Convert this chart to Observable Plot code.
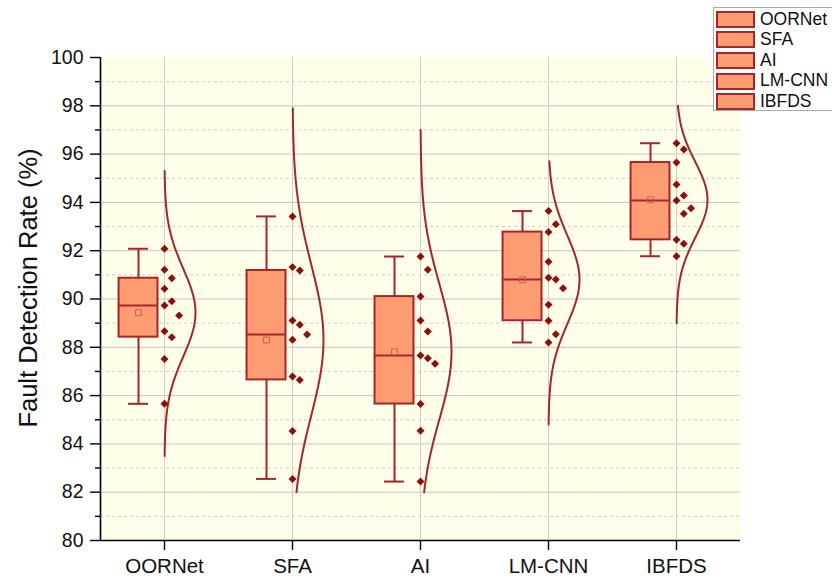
<!DOCTYPE html>
<html>
<head>
<meta charset="utf-8">
<script src="https://cdn.jsdelivr.net/npm/d3@7"></script>
<script src="https://cdn.jsdelivr.net/npm/@observablehq/plot@0.6"></script>
<style>
  body { margin: 0; background: #fff; font-family: Arial, "Liberation Sans", sans-serif; }
  #wrap { position: relative; width: 832px; height: 579px; overflow: hidden; }
  #legend { position: absolute; left: 713px; top: 7px; width: 122px; height: 104px;
            border: 1px solid #a9a9a9; background: #fff; box-sizing: border-box; padding-top: 1px; }
  .row { display: flex; align-items: center; height: 20.6px; }
  .sw { width: 35px; height: 13px; margin-left: 2px; margin-right: 5px; background: #FD9C72; border: 2px solid #A4262C; }
  .lab { font-size: 17.5px; color: #111; line-height: 1; }
</style>
</head>
<body>
<div id="wrap"><div id="legend"></div></div>
<script>
// ---- data ----
const categories = ["OORNet", "SFA", "AI", "LM-CNN", "IBFDS"];
const oornetRates = [92.08, 91.21, 90.86, 90.42, 89.91, 89.73, 89.32, 88.66, 88.42, 87.52, 85.66];
const sfaRates    = [93.42, 91.32, 91.18, 89.11, 88.93, 88.53, 88.31, 86.79, 86.65, 84.53, 82.55];
const aiRates     = [91.76, 91.21, 90.10, 89.11, 88.65, 87.66, 87.55, 87.32, 85.65, 84.54, 82.44];
const lmcnnRates  = [93.64, 93.10, 92.77, 91.54, 90.88, 90.81, 90.45, 89.76, 89.10, 88.54, 88.20];
const ibfdsRates  = [96.45, 96.19, 95.65, 94.74, 94.29, 94.08, 93.76, 93.53, 92.45, 92.29, 91.77];
// extent of the fitted normal curve drawn beside each group
const curveLow  = [83.5, 82.0, 82.0, 84.8, 89.0];
const curveHigh = [95.3, 97.9, 97.0, 95.7, 98.0];
const yMajorTicks = [80, 82, 84, 86, 88, 90, 92, 94, 96, 98, 100];
const yMinorTicks = [81, 83, 85, 87, 89, 91, 93, 95, 97, 99];
const yLabel = "Fault Detection Rate (%)";

// ---- styling ----
const boxFill = "#FD9C72", boxStroke = "#A4262C", pointFill = "#8C0E0E", curveStroke = "#A3262A";
const xDomain = [-0.5, categories.length - 0.5];
const boxOff = -0.203, boxHalf = 0.152, capHalf = 0.078, curveWidth = 0.242, jitterStep = 0.057;

// ---- derived ----
const series = [oornetRates, sfaRates, aiRates, lmcnnRates, ibfdsRates];
function quant(s, p) { // (n+1)p quantile, as used by the source software
  const pos = (s.length + 1) * p, lo = Math.floor(pos), f = pos - lo;
  if (lo < 1) return s[0];
  if (lo >= s.length) return s[s.length - 1];
  return s[lo - 1] + f * (s[lo] - s[lo - 1]);
}
const stats = series.map((vals, i) => {
  const s = [...vals].sort((a, b) => a - b);
  return { i, min: s[0], max: s[s.length - 1], q1: quant(s, 0.25), med: quant(s, 0.5),
           q3: quant(s, 0.75), mean: d3.mean(s), sd: d3.deviation(s) };
});
const points = [];
series.forEach((vals, i) => {
  const placed = [];
  [...vals].sort((a, b) => b - a).forEach(v => {
    let k = 0;
    while (placed.some(p => p.k === k && Math.abs(p.v - v) < 0.6)) k++;
    placed.push({ k, v });
    points.push({ i, v, k });
  });
});
const curve = [];
stats.forEach(st => {
  const lo = curveLow[st.i], hi = curveHigh[st.i], n = 140;
  for (let j = 0; j <= n; j++) {
    const v = lo + (hi - lo) * j / n;
    curve.push({ i: st.i, v, w: Math.exp(-0.5 * ((v - st.mean) / st.sd) ** 2) });
  }
});

const chart = Plot.plot({
  width: 832, height: 579,
  marginLeft: 100, marginRight: 92, marginTop: 57, marginBottom: 39,
  style: { fontFamily: "Arial, 'Liberation Sans', sans-serif", background: "transparent", color: "#111" },
  x: { domain: xDomain },
  y: { domain: [80, 100] },
  marks: [
    Plot.frame({ fill: "#FFFEE8", stroke: "none" }),
    Plot.gridY(yMinorTicks, { stroke: "#cfcfcf", strokeOpacity: 1, strokeDasharray: "3,3" }),
    Plot.gridY(yMajorTicks.filter(t => t > 80 && t < 100), { stroke: "#c4c4c0", strokeOpacity: 1 }),
    Plot.gridX(d3.range(categories.length), { stroke: "#d0d0c8", strokeOpacity: 1 }),
    Plot.ruleY([80], { stroke: "#000", strokeWidth: 1.6 }),
    Plot.ruleX([xDomain[0]], { y1: 80, y2: 100, stroke: "#000", strokeWidth: 1.6 }),
    Plot.axisY({ ticks: yMajorTicks, tickSize: 10, tickPadding: 7, fontSize: 19.5, stroke: "#000", strokeWidth: 1.4, label: null }),
    Plot.axisY({ ticks: yMinorTicks, tickSize: 5, text: null, stroke: "#000", strokeWidth: 1.4, label: null }),
    Plot.axisX({ ticks: d3.range(categories.length), tickFormat: i => categories[i], tickSize: 10, tickPadding: 8,
                 fontSize: 20.5, stroke: "#000", strokeWidth: 1.4, label: null }),
    Plot.text([yLabel], { frameAnchor: "left", textAnchor: "middle", rotate: -90, dx: -72, dy: -11, fontSize: 25.5, fill: "#111" }),
    // normal curves
    Plot.line(curve, { x: d => d.i + curveWidth * d.w, y: "v", z: "i", stroke: curveStroke, strokeWidth: 2 }),
    // whiskers
    Plot.ruleX(stats, { x: d => d.i + boxOff, y1: "q3", y2: "max", stroke: boxStroke, strokeWidth: 2 }),
    Plot.ruleX(stats, { x: d => d.i + boxOff, y1: "min", y2: "q1", stroke: boxStroke, strokeWidth: 2 }),
    Plot.ruleY(stats, { y: "max", x1: d => d.i + boxOff - capHalf, x2: d => d.i + boxOff + capHalf, stroke: boxStroke, strokeWidth: 2 }),
    Plot.ruleY(stats, { y: "min", x1: d => d.i + boxOff - capHalf, x2: d => d.i + boxOff + capHalf, stroke: boxStroke, strokeWidth: 2 }),
    // boxes
    Plot.rect(stats, { x1: d => d.i + boxOff - boxHalf, x2: d => d.i + boxOff + boxHalf, y1: "q1", y2: "q3",
                       fill: boxFill, stroke: boxStroke, strokeWidth: 2 }),
    Plot.ruleY(stats, { y: "med", x1: d => d.i + boxOff - boxHalf, x2: d => d.i + boxOff + boxHalf, stroke: boxStroke, strokeWidth: 2 }),
    Plot.dot(stats, { x: d => d.i + boxOff, y: "mean", symbol: "square", r: 3.3, fill: "none", stroke: "#C8664C", strokeWidth: 1 }),
    // data points
    Plot.dot(points, { x: d => d.i + d.k * jitterStep, y: "v", symbol: "diamond2", r: 3.6, fill: pointFill, stroke: "none" })
  ]
});
document.getElementById("wrap").prepend(chart);

const legend = d3.select("#legend");
categories.forEach(c => {
  const row = legend.append("div").attr("class", "row");
  row.append("span").attr("class", "sw");
  row.append("span").attr("class", "lab").text(c);
});
</script>
</body>
</html>
